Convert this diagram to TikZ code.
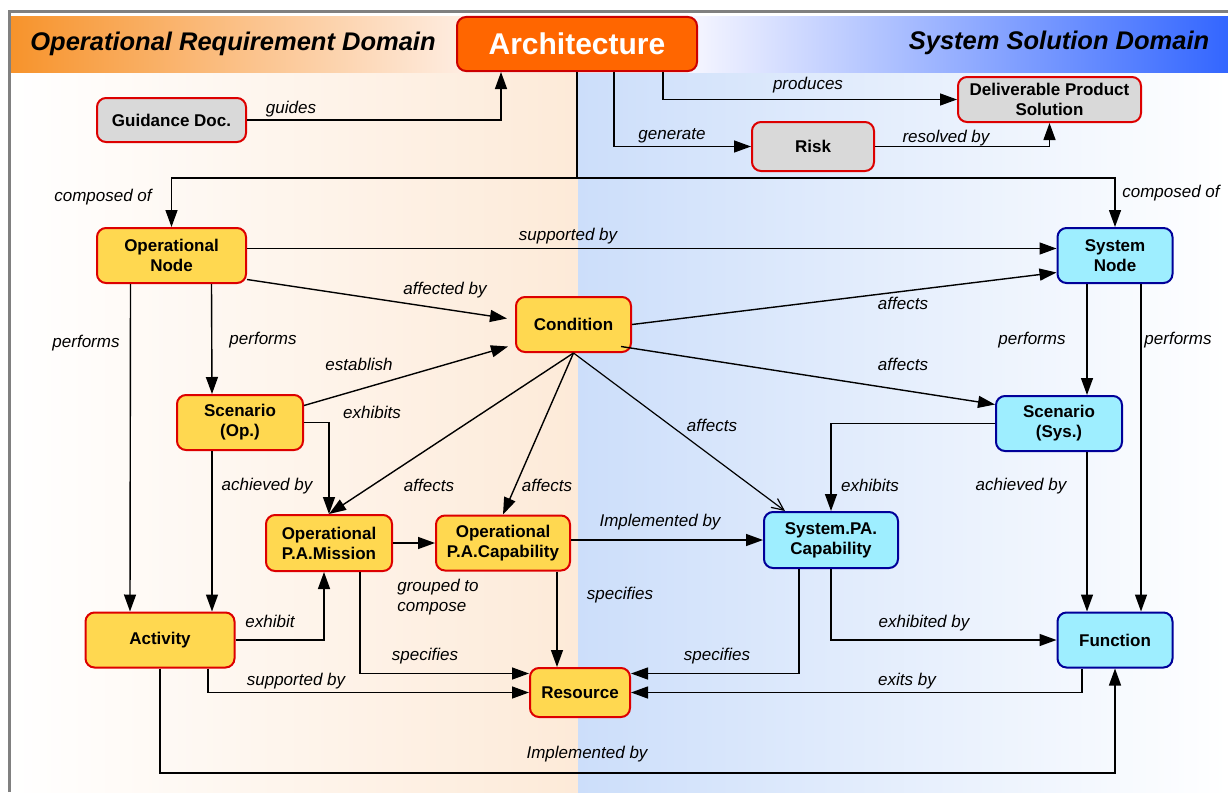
\documentclass[tikz,border=0pt]{standalone}
\usepackage{fontspec}
\setmainfont{Liberation Sans}
\usepackage{xcolor}
\usetikzlibrary{backgrounds, positioning, arrows.meta}

\definecolor{opyellow}{HTML}{FFD850}
\definecolor{opred}{HTML}{DD0000}
\definecolor{sysblue}{HTML}{9EEEFF}
\definecolor{sysnavy}{HTML}{000099}
\definecolor{docgray}{HTML}{D9D9D9}
\definecolor{archorange}{HTML}{FF6600}
\definecolor{archred}{HTML}{CC0000}
\definecolor{hdrorange}{HTML}{F7932B}
\definecolor{hdrpink}{HTML}{FFF4F0}
\definecolor{hdrblue}{HTML}{3366FF}
\definecolor{hdrpale}{HTML}{F6F6FF}
\definecolor{peach}{HTML}{FDEAD8}
\definecolor{paleblue}{HTML}{CCDEFA}
\definecolor{framegray}{HTML}{808080}

\tikzset{
    concept/.style={draw, rounded corners=9pt, line width=2pt, inner sep=0pt, align=center,
        font=\fontsize{17}{20}\selectfont\bfseries},
    opconcept/.style={concept, fill=opyellow, draw=opred},
    sysconcept/.style={concept, fill=sysblue, draw=sysnavy},
    docconcept/.style={concept, fill=docgray, draw=opred},
    archbox/.style={concept, fill=archorange, draw=archred, text=white,
        font=\fontsize{30}{34}\selectfont\bfseries},
    domaintitle/.style={font=\fontsize{25.5}{30}\selectfont\bfseries\itshape, inner sep=0pt},
    lbl/.style={font=\fontsize{17}{20}\selectfont\itshape, inner sep=0pt},
    arr/.style={-{Triangle[length=17pt,width=12pt]}, line width=1.4pt},
}

\begin{document}
\begin{tikzpicture}[x=1pt, y=-1pt]
        \useasboundingbox (0,0) rectangle (1228,792);

        \node (opdomain) [domaintitle] at (233,44) {Operational Requirement Domain};
        \node (sysdomain) [domaintitle] at (1059,43) {System Solution Domain};
        \node (arch) [archbox, minimum width=240, minimum height=54] at (577,44) {Architecture};

        \node (guidance) [docconcept, minimum width=149, minimum height=44] at (171.5,120) {Guidance Doc.};
        \node (deliverable) [docconcept, minimum width=183, minimum height=45] at (1049.5,99.5) {Deliverable Product\\Solution};
        \node (risk) [docconcept, minimum width=122, minimum height=49] at (813,146.5) {Risk};

        \node (opnode) [opconcept, minimum width=149, minimum height=55] at (171.5,255.5) {Operational\\Node};
        \node (condition) [opconcept, minimum width=115, minimum height=55] at (573.5,324.5) {Condition};
        \node (sysnode) [sysconcept, minimum width=115, minimum height=55] at (1115,255.5) {System\\Node};
        \node (scenop) [opconcept, minimum width=126, minimum height=55] at (240,422.5) {Scenario\\(Op.)};
        \node (scensys) [sysconcept, minimum width=126, minimum height=55] at (1059,423.5) {Scenario\\(Sys.)};
        \node (mission) [opconcept, minimum width=126, minimum height=56] at (329,543) {Operational\\P.A.Mission};
        \node (capability) [opconcept, minimum width=134, minimum height=55] at (503,543) {Operational\\P.A.Capability};
        \node (syscap) [sysconcept, minimum width=134, minimum height=56] at (831,540) {System.PA.\\Capability};
        \node (activity) [opconcept, minimum width=149, minimum height=55] at (160,640) {Activity};
        \node (function) [sysconcept, minimum width=115, minimum height=55] at (1115,640) {Function};
        \node (resource) [opconcept, minimum width=100, minimum height=49] at (580,692.5) {Resource};

        \coordinate (split) at (577,178);
        \coordinate (bottomrail) at (0,773);

        % Lines
        \draw [arr] (guidance.east) -| ([xshift=-76]arch.south);
        \draw [arr] ([xshift=86]arch.south) |- (deliverable.west);
        \draw [arr] ([xshift=37]arch.south) |- (risk.west);
        \draw [arr] (risk.east) -| (deliverable.south);
        \draw [line width=1.4pt] (arch.south) -- (arch.south |- split);
        \draw [arr] (split) -| (opnode.north);
        \draw [arr] (split) -| (sysnode.north);

        \draw [arr] ([yshift=7]opnode.east) -- ([yshift=7]sysnode.west);
        \draw [arr] ([yshift=-24]opnode.east) -- ([xshift=-8,yshift=6]condition.west);
        \draw [arr] ([xshift=40]opnode.south) -- ([xshift=-28]scenop.north);
        \draw [arr] ([xshift=-41]opnode.south) -- ([xshift=-30]activity.north);
        \draw [arr] ([yshift=17]scenop.east) -- ([xshift=-7,yshift=-22]condition.west);
        \draw [arr] (scenop.east) -| (mission.north);
        \draw [arr] ([xshift=-28]scenop.south) -- ([xshift=52]activity.north);

        \draw [arr] (condition.east) -- ([yshift=-17]sysnode.west);
        \draw [arr] ([xshift=-11,yshift=-22]condition.east) -- ([yshift=19]scensys.west);
        \draw [arr] (condition.south) -- (mission.north);
        \draw [arr] (condition.south) -- (capability.north);
        \draw [-{Straight Barb[length=12pt,width=11pt]}, line width=1.2pt] (condition.south) -- ([xshift=-46]syscap.north);

        \draw [arr] ([xshift=-28]sysnode.south) -- ([xshift=28]scensys.north);
        \draw [arr] ([xshift=26]sysnode.south) -- ([xshift=26]function.north);
        \draw [arr] ([xshift=28]scensys.south) -- ([xshift=-28]function.north);
        \draw [arr] (scensys.west) -| (syscap.north);

        \draw [arr] (activity.east) -| ([xshift=-5]mission.south);
        \draw [arr] (mission.east) -- (capability.west);
        \draw [arr] ([xshift=31]mission.south) |- ([yshift=19]resource.west);
        \draw [arr] ([xshift=48]activity.south) |- (resource.west);
        \draw [arr] ([xshift=54]capability.south) -- ([xshift=-23]resource.north);
        \draw [arr] ([yshift=3]capability.east) -- (syscap.west);
        \draw [arr] (syscap.south) |- (function.west);
        \draw [arr] ([xshift=-32]syscap.south) |- ([yshift=19]resource.east);
        \draw [arr] ([xshift=-33]function.south) |- (resource.east);
        \draw [arr] (activity.south) -- (activity.south |- bottomrail) -| (function.south);

        % Labels
        \node (lguides) [lbl] at (291,109) {guides};
        \node (lproduces) [lbl] at (808,85) {produces};
        \node (lgenerate) [lbl] at (672,136) {generate};
        \node (lresolved) [lbl] at (946,138) {resolved by};
        \node (lcomposedop) [lbl] at (103,197) {composed of};
        \node (lcomposedsys) [lbl] at (1171,193) {composed of};
        \node (lsupportedtop) [lbl] at (568,236) {supported by};
        \node (laffectedby) [lbl] at (445,290) {affected by};
        \node (laffectsnode) [lbl] at (903,303) {affects};
        \node (lperformsact) [lbl] at (86,343) {performs};
        \node (lperformsop) [lbl] at (263,340) {performs};
        \node (lestablish) [lbl] at (359,364) {establish};
        \node (lexhibitsop) [lbl] at (372,412) {exhibits};
        \node (laffectsscen) [lbl] at (903,364) {affects};
        \node (lperformssys) [lbl] at (1032,340) {performs};
        \node (lperformsfun) [lbl] at (1178,340) {performs};
        \node (laffectscap) [lbl] at (712,425) {affects};
        \node (lachievedop) [lbl] at (267,486) {achieved by};
        \node (laffectsmis) [lbl] at (429,485) {affects};
        \node (laffectsopcap) [lbl] at (547,485) {affects};
        \node (lexhibitssys) [lbl] at (870,485) {exhibits};
        \node (lachievedsys) [lbl] at (1021,486) {achieved by};
        \node (limplcap) [lbl] at (660,522) {Implemented by};
        \node (lgrouped) [lbl, align=left] at (438,597) {grouped to\\compose};
        \node (lspeccap) [lbl] at (620,595) {specifies};
        \node (lexhibit) [lbl] at (270,621) {exhibit};
        \node (lexhibited) [lbl] at (924,623) {exhibited by};
        \node (lspecmis) [lbl] at (425,656) {specifies};
        \node (lspecsys) [lbl] at (717,656) {specifies};
        \node (lsupportedbot) [lbl] at (296,681) {supported by};
        \node (lexits) [lbl] at (907,681) {exits by};
        \node (limplfun) [lbl] at (587,754) {Implemented by};

        \begin{scope}[on background layer]
            \shade [left color=hdrorange, right color=hdrpink] (10,17) rectangle (500,73);
            \fill [hdrpink] (500,17) rectangle (578,73);
            \fill [hdrpale] (578,17) rectangle (690,73);
            \shade [left color=hdrpale, right color=hdrblue] (690,17) rectangle (1228,73);
            \shade [left color=white, right color=peach] (10,73) rectangle (578,792);
            \shade [left color=paleblue, right color=white] (578,73) rectangle (1228,792);
            \draw [framegray, line width=3pt] (9,792) -- (9,12) -- (1228,12);
        \end{scope}

    \end{tikzpicture}
\end{document}
